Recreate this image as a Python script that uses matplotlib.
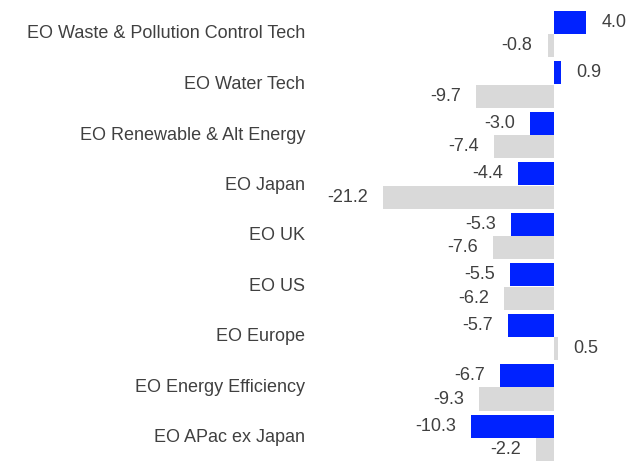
import matplotlib.pyplot as plt
import numpy as np

categories = ["EO Waste & Pollution Control Tech", "EO Water Tech",
              "EO Renewable & Alt Energy", "EO Japan", "EO UK", "EO US",
              "EO Europe", "EO Energy Efficiency", "EO APac ex Japan"]
series_a = [4.0, 0.9, -3.0, -4.4, -5.3, -5.5, -5.7, -6.7, -10.3]
series_b = [-0.8, -9.7, -7.4, -21.2, -7.6, -6.2, 0.5, -9.3, -2.2]

plt.rcParams['font.family'] = ['Liberation Sans', 'DejaVu Sans']
txt = '#404040'
fs = 13

fig = plt.figure(figsize=(6.42, 4.63), dpi=100)
# zero line sits at pixel 554, about 8.07 px per unit
ppu = 8.07
x0, x1 = 330, 642
ax = fig.add_axes([x0 / 642, 0, (x1 - x0) / 642, 1])
ax.set_xlim((x0 - 554) / ppu, (x1 - 554) / ppu)
ax.set_ylim(8 + 25 / 50.5, -34 / 50.5)

y = np.arange(len(categories))
h = 0.46
ax.barh(y - h / 2, series_a, height=h, color='#0022FF')
ax.barh(y + h / 2, series_b, height=h, color='#D9D9D9')

off = 15 / ppu
for yi, va, vb in zip(y, series_a, series_b):
    for yy, v in ((yi - h / 2, va), (yi + h / 2, vb)):
        if v >= 0:
            ax.text(v + off, yy, f"{v:.1f}", ha='left', va='center',
                    fontsize=fs, color=txt)
        else:
            ax.text(v - off, yy, f"{v:.1f}", ha='right', va='center',
                    fontsize=fs, color=txt)

# category labels on the left, right aligned near pixel 305
for yi, name in zip(y, categories):
    ax.text((305 - 554) / ppu, yi, name, ha='right', va='center',
            fontsize=fs, color=txt, clip_on=False)

ax.axis('off')
fig.savefig('out.png', dpi=100)
